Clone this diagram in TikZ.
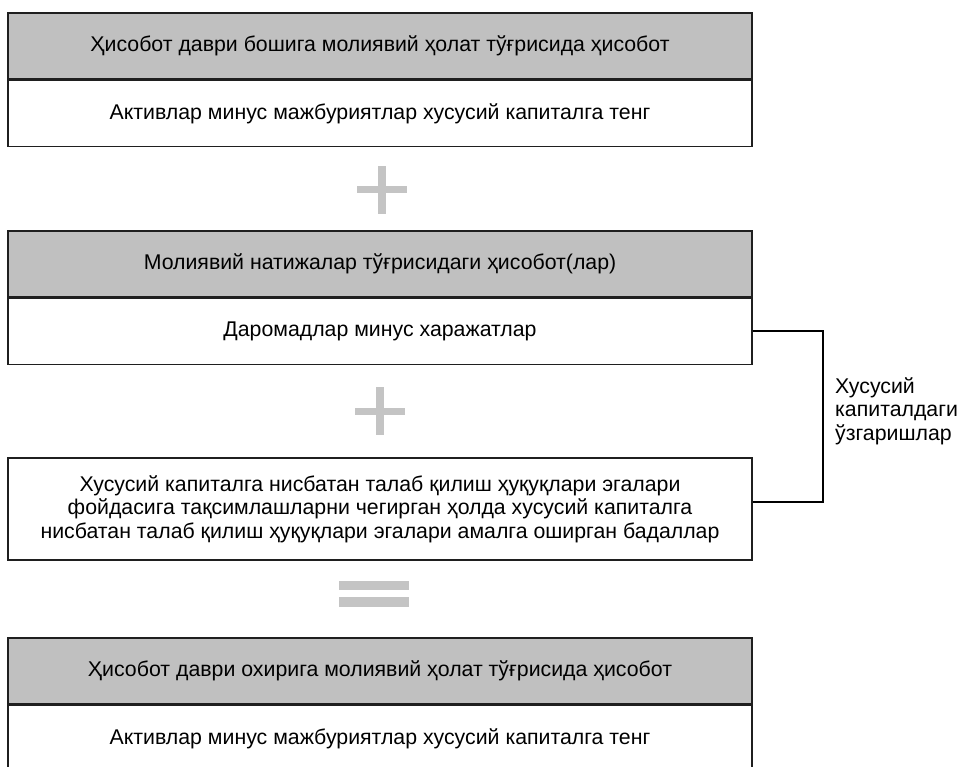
\documentclass[tikz,border=0pt]{standalone}
\usepackage{fontspec}
\setmainfont{Liberation Sans}
\usetikzlibrary{positioning,calc}

\definecolor{headgray}{HTML}{C0C0C0}
\definecolor{signgray}{HTML}{C4C4C4}

\begin{document}
\begin{tikzpicture}[
  x=1pt, y=-1pt,
  every node/.style={font=\fontsize{21.3}{23.5}\selectfont},
  headbox/.style={rectangle, draw=black!88, fill=headgray, line width=1.4pt, minimum width=744pt, minimum height=66pt, inner sep=0pt},
  bodybox/.style={rectangle, draw=black!88, fill=white, line width=1.4pt, minimum width=744pt, minimum height=66pt, inner sep=0pt},
  tallbox/.style={bodybox, minimum height=102pt, align=center},
  sign/.style={fill=signgray, draw=none},
  brace/.style={draw=black, line width=2.2pt}
]
  \useasboundingbox (0,0) rectangle (959,767);

  \node[headbox] (headA) at (380,46) {Ҳисобот даври бошига молиявий ҳолат тўғрисида ҳисобот};
  \node[bodybox, below=0pt of headA] (bodyA) {Активлар минус мажбуриятлар хусусий капиталга тенг};

  \coordinate (plusA) at (382,190);
  \fill[sign] ($(plusA)+(-25,-3.5)$) rectangle ($(plusA)+(25,3.5)$);
  \fill[sign] ($(plusA)+(-4,-24)$) rectangle ($(plusA)+(4,24)$);

  \node[headbox] (headB) at (380,264) {Молиявий натижалар тўғрисидаги ҳисобот(лар)};
  \node[bodybox, below=0pt of headB] (bodyB) {Даромадлар минус харажатлар};

  \coordinate (plusB) at (380,411);
  \fill[sign] ($(plusB)+(-25,-3.5)$) rectangle ($(plusB)+(25,3.5)$);
  \fill[sign] ($(plusB)+(-4,-24)$) rectangle ($(plusB)+(4,24)$);

  \node[tallbox] (bodyC) at (380,509) {Хусусий капиталга нисбатан талаб қилиш ҳуқуқлари эгалари\\
    фойдасига тақсимлашларни чегирган ҳолда хусусий капиталга\\
    нисбатан талаб қилиш ҳуқуқлари эгалари амалга оширган бадаллар};

  \coordinate (equals) at (374,594);
  \fill[sign] ($(equals)+(-35,-13)$) rectangle ($(equals)+(35,-4)$);
  \fill[sign] ($(equals)+(-35,3)$) rectangle ($(equals)+(35,13)$);

  \node[headbox] (headD) at (380,671) {Ҳисобот даври охирига молиявий ҳолат тўғрисида ҳисобот};
  \node[bodybox, below=0pt of headD] (bodyD) {Активлар минус мажбуриятлар хусусий капиталга тенг};

  \coordinate (brk) at (823,0);
  \draw[brace] (bodyB.east) -- (bodyB.east -| brk) -- ([yshift=7pt]bodyC.east -| brk) -- ([yshift=7pt]bodyC.east);
  \node[anchor=west, align=left, inner sep=0pt] (change) at (835,411) {Хусусий\\капиталдаги\\ўзгаришлар};
\end{tikzpicture}
\end{document}
